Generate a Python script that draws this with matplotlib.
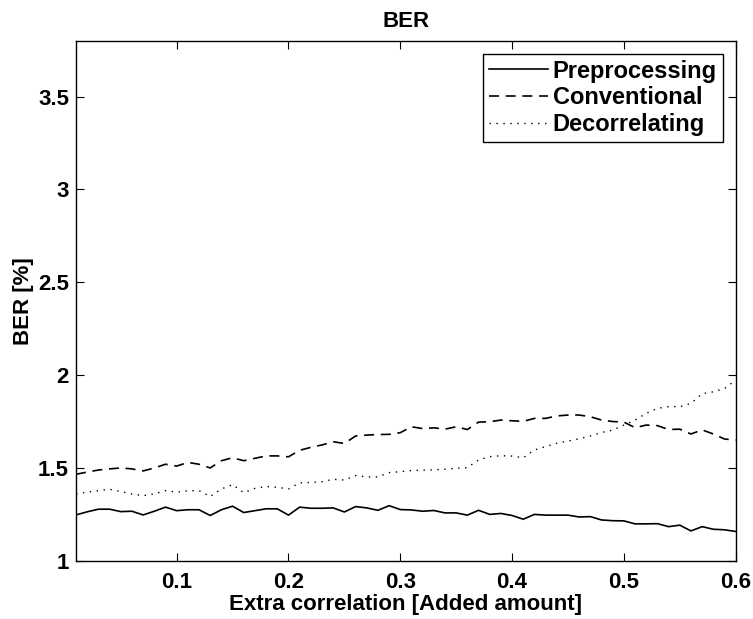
import numpy as np
import matplotlib
matplotlib.use("Agg")
import matplotlib.pyplot as plt

plt.rcParams['font.family'] = ['Liberation Sans', 'DejaVu Sans']
plt.rcParams['font.weight'] = 'bold'

# extra correlation added, 0.01 .. 0.60
x = np.arange(1, 61) / 100.0

preprocessing = [1.247, 1.264, 1.278, 1.278, 1.265, 1.267, 1.247, 1.267, 1.289, 1.270,
                 1.275, 1.275, 1.244, 1.275, 1.294, 1.260, 1.270, 1.280, 1.280, 1.246,
                 1.289, 1.283, 1.283, 1.285, 1.263, 1.292, 1.285, 1.272, 1.297, 1.276,
                 1.274, 1.267, 1.271, 1.258, 1.258, 1.246, 1.272, 1.250, 1.255, 1.244,
                 1.224, 1.250, 1.246, 1.246, 1.246, 1.236, 1.238, 1.220, 1.216, 1.215,
                 1.199, 1.199, 1.200, 1.184, 1.192, 1.161, 1.184, 1.170, 1.167, 1.158]

conventional = [1.466, 1.478, 1.489, 1.495, 1.500, 1.495, 1.484, 1.500, 1.520, 1.510,
                1.530, 1.520, 1.500, 1.539, 1.555, 1.539, 1.552, 1.565, 1.565, 1.560,
                1.595, 1.611, 1.624, 1.641, 1.632, 1.672, 1.677, 1.680, 1.681, 1.690,
                1.722, 1.712, 1.716, 1.709, 1.722, 1.707, 1.747, 1.749, 1.758, 1.754,
                1.751, 1.767, 1.767, 1.780, 1.785, 1.785, 1.776, 1.758, 1.750, 1.747,
                1.717, 1.731, 1.728, 1.707, 1.709, 1.683, 1.705, 1.683, 1.656, 1.650]

decorrelating = [1.360, 1.370, 1.378, 1.385, 1.373, 1.360, 1.351, 1.360, 1.378, 1.370,
                 1.377, 1.378, 1.346, 1.387, 1.410, 1.367, 1.390, 1.400, 1.396, 1.387,
                 1.420, 1.422, 1.426, 1.439, 1.435, 1.459, 1.452, 1.452, 1.475, 1.480,
                 1.486, 1.488, 1.490, 1.493, 1.498, 1.502, 1.543, 1.561, 1.566, 1.564,
                 1.555, 1.597, 1.615, 1.633, 1.645, 1.657, 1.672, 1.691, 1.704, 1.731,
                 1.758, 1.794, 1.821, 1.830, 1.830, 1.848, 1.900, 1.910, 1.928, 1.973]

xticks = [0.1, 0.2, 0.3, 0.4, 0.5, 0.6]
yticks = [1, 1.5, 2, 2.5, 3, 3.5]

fig = plt.figure(figsize=(7.53, 6.19), dpi=100)
ax = fig.add_axes([0.101, 0.094, 0.876, 0.840])

ax.plot(x, preprocessing, color='black', lw=1.2, linestyle='-', label='Preprocessing')
ax.plot(x, conventional, color='black', lw=1.2, linestyle=(0, (6, 4)), label='Conventional')
ax.plot(x, decorrelating, color='black', lw=1.0, linestyle=(0, (1, 4)), label='Decorrelating')

ax.set_xlim(0.01, 0.6)
ax.set_ylim(1, 3.8)
ax.set_xticks(xticks)
ax.set_xticklabels([str(v) for v in xticks])
ax.set_yticks(yticks)
ax.set_yticklabels(['1', '1.5', '2', '2.5', '3', '3.5'])
ax.tick_params(axis='x', pad=8)
ax.tick_params(axis='y', pad=5)
ax.tick_params(direction='in', top=True, right=True, length=6, width=0.8,
               labelsize=16)
for s in ax.spines.values():
    s.set_linewidth(1.0)

ax.set_title('BER', fontsize=16, fontweight='bold', pad=10)
ax.set_xlabel('Extra correlation [Added amount]', fontsize=16, fontweight='bold', labelpad=1)
ax.set_ylabel('BER [%]', fontsize=16, fontweight='bold', labelpad=3)

leg = ax.legend(loc='upper right', fontsize=17, frameon=True, fancybox=False,
                edgecolor='black', framealpha=1, handlelength=2.5, handletextpad=0.2,
                borderpad=0.25, labelspacing=0.15, borderaxespad=0.55)
leg.get_frame().set_linewidth(1.0)

fig.savefig('out.png', dpi=100)
